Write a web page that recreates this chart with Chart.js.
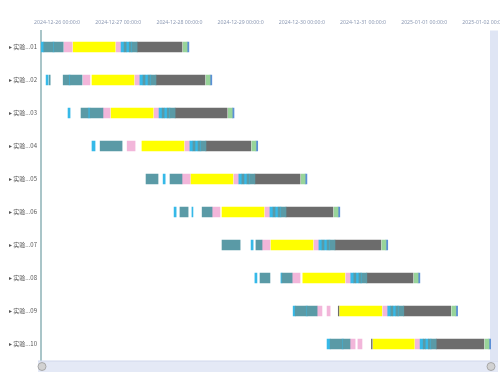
<!DOCTYPE html>
<html>
<head>
<meta charset="utf-8">
<script src="https://cdn.jsdelivr.net/npm/chart.js@4.4.1/dist/chart.umd.min.js"></script>
<style>
  html, body { margin: 0; padding: 0; background: #fff; }
  #wrap { width: 500px; height: 373px; }
</style>
</head>
<body>
<div id="wrap"><canvas id="gantt" width="500" height="373"></canvas></div>
<script>
// task rows (y axis)
const taskNames = ['实验...01', '实验...02', '实验...03', '实验...04', '实验...05',
                   '实验...06', '实验...07', '实验...08', '实验...09', '实验...10'];

// x axis: hours from 2024-12-26 00:00
const tickHours = [0, 24, 48, 72, 96, 120, 144, 168];
const tickLabels = ['2024-12-26 00:00:0', '2024-12-27 00:00:0', '2024-12-28 00:00:0', '2024-12-29 00:00:0',
                    '2024-12-30 00:00:0', '2024-12-31 00:00:0', '2025-01-01 00:00:0', '2025-01-02 00:00:0'];

// segments: [row, startHour, endHour]
const tealSegs = [
    [0, -5.2, -1.6], [0, -1.2, 2.4], [0, 26.3, 27.1], [0, 28.3, 29.0], [0, 29.4, 31.4],
    [1, -3.1, -2.7], [1, 2.4, 4.7], [1, 5.1, 9.8], [1, 33.7, 34.5], [1, 35.7, 36.4], [1, 36.8, 38.8],
    [2, 9.4, 12.2], [2, 12.9, 18.0], [2, 41.2, 42.0], [2, 43.2, 43.9], [2, 44.3, 46.3],
    [3, 16.9, 25.5], [3, 53.3, 54.1], [3, 55.3, 56.0], [3, 56.4, 58.4],
    [4, 34.9, 39.6], [4, 44.3, 49.0], [4, 72.5, 73.3], [4, 74.5, 75.2], [4, 75.6, 77.6],
    [5, 48.2, 51.4], [5, 56.9, 60.8], [5, 84.7, 85.5], [5, 86.7, 87.4], [5, 87.8, 89.8],
    [6, 64.7, 71.8], [6, 78.0, 80.4], [6, 103.9, 104.7], [6, 105.9, 106.6], [6, 107.0, 109.0],
    [7, 79.6, 83.5], [7, 88.2, 92.2], [7, 116.4, 117.2], [7, 118.4, 119.1], [7, 119.5, 121.5],
    [8, 93.4, 97.7], [8, 98.1, 102.0], [8, 130.9, 131.7], [8, 132.9, 133.6], [8, 134.0, 136.0],
    [9, 107.1, 111.8], [9, 112.2, 114.9], [9, 143.6, 144.4], [9, 145.6, 146.3], [9, 146.7, 148.7]
];
const cyanSegs = [
    [0, -6.3, -5.2], [0, -1.6, -1.2], [0, 25.1, 26.3], [0, 27.1, 28.3], [0, 29.0, 29.4],
    [1, -4.3, -3.5], [1, 4.7, 5.1], [1, 32.5, 33.7], [1, 34.5, 35.7], [1, 36.4, 36.8],
    [2, 4.3, 5.1], [2, 12.2, 12.9], [2, 40.0, 41.2], [2, 42.0, 43.2], [2, 43.9, 44.3],
    [3, 13.7, 14.9], [3, 52.1, 53.3], [3, 54.1, 55.3], [3, 56.0, 56.4],
    [4, 41.6, 42.4], [4, 71.3, 72.5], [4, 73.3, 74.5], [4, 75.2, 75.6],
    [5, 45.9, 46.7], [5, 52.9, 53.3], [5, 83.5, 84.7], [5, 85.5, 86.7], [5, 87.4, 87.8],
    [6, 76.1, 76.9], [6, 102.7, 103.9], [6, 104.7, 105.9], [6, 106.6, 107.0],
    [7, 77.6, 78.4], [7, 87.8, 88.2], [7, 115.2, 116.4], [7, 117.2, 118.4], [7, 119.1, 119.5],
    [8, 92.6, 93.4], [8, 97.7, 98.1], [8, 129.7, 130.9], [8, 131.7, 132.9], [8, 133.6, 134.0],
    [9, 105.9, 107.1], [9, 111.8, 112.2], [9, 142.4, 143.6], [9, 144.4, 145.6], [9, 146.3, 146.7]
];
const pinkSegs = [
    [0, 2.7, 5.9], [0, 23.2, 25.1],
    [1, 10.2, 12.9], [1, 30.6, 32.5],
    [2, 18.0, 20.8], [2, 38.1, 40.0],
    [3, 27.5, 30.6], [3, 50.2, 52.1],
    [4, 49.0, 52.2], [4, 69.4, 71.3],
    [5, 60.8, 63.9], [5, 81.6, 83.5],
    [6, 80.4, 83.5], [6, 100.8, 102.7],
    [7, 92.2, 95.3], [7, 113.3, 115.2],
    [8, 102.0, 103.9], [8, 105.9, 107.1], [8, 127.8, 129.7],
    [9, 114.9, 116.9], [9, 118.0, 119.6], [9, 140.5, 142.4]
];
const yellowSegs = [
    [0, 6.3, 22.8], [1, 13.7, 30.2], [2, 21.2, 37.7], [3, 33.3, 49.8], [4, 52.5, 69.0],
    [5, 64.7, 81.2], [6, 83.9, 100.4], [7, 96.4, 112.9], [8, 110.9, 127.4], [9, 124.0, 140.1]
];
const graySegs = [
    [0, 31.4, 49.0], [1, 38.8, 58.0], [2, 46.3, 66.7], [3, 58.4, 76.0], [4, 77.6, 95.3],
    [5, 89.8, 108.2], [6, 109.0, 127.0], [7, 121.5, 139.6], [8, 136.0, 154.4], [9, 148.7, 167.4],
    [8, 110.3, 110.6], [9, 123.3, 123.6]
];
const greenSegs = [
    [0, 49.4, 51.0], [1, 58.4, 60.0], [2, 67.1, 68.7], [3, 76.4, 78.0], [4, 95.7, 97.3],
    [5, 108.6, 110.2], [6, 127.4, 129.0], [7, 140.0, 141.6], [8, 154.8, 156.4], [9, 167.8, 169.4]
];
const blueSegs = [
    [0, 51.0, 51.7], [1, 60.0, 60.7], [2, 68.7, 69.4], [3, 78.0, 78.7], [4, 97.3, 98.0],
    [5, 110.2, 110.9], [6, 129.0, 129.7], [7, 141.6, 142.3], [8, 156.4, 157.1], [9, 169.4, 170.1]
];

const toPoints = list => list.map(([r, s, e]) => ({ x: [s, e], y: taskNames[r] }));

function seg(list, color) {
    return {
        data: toPoints(list),
        backgroundColor: color,
        borderWidth: 0,
        barThickness: 10,
        grouped: false
    };
}

// scrollbars drawn behind the bars
const scrollbars = {
    id: 'scrollbars',
    beforeDatasetsDraw(chart) {
        const ctx = chart.ctx;
        const a = chart.chartArea;
        ctx.save();
        // right bar
        ctx.fillStyle = '#dfe5f4';
        ctx.fillRect(490, a.top, 8, a.bottom - a.top);
        // bottom band
        ctx.fillStyle = '#e4e9f6';
        ctx.fillRect(38, a.bottom + 0.5, 460, 11);
        ctx.strokeStyle = '#d0d8ec';
        ctx.lineWidth = 1;
        ctx.beginPath();
        ctx.moveTo(38, a.bottom + 0.5);
        ctx.lineTo(498, a.bottom + 0.5);
        ctx.stroke();
        ctx.restore();
    },
    afterDraw(chart) {
        const ctx = chart.ctx;
        const y = chart.chartArea.bottom + 6;
        ctx.save();
        [42, 491].forEach(x => {
            ctx.beginPath();
            ctx.arc(x, y, 4, 0, Math.PI * 2);
            ctx.fillStyle = '#d2d2d2';
            ctx.fill();
            ctx.strokeStyle = '#9a9a9a';
            ctx.lineWidth = 0.8;
            ctx.stroke();
        });
        ctx.restore();
    }
};

const ctx = document.getElementById('gantt').getContext('2d');
const ganttChart = new Chart(ctx, {
    type: 'bar',
    data: {
        labels: taskNames,
        datasets: [
            seg(tealSegs, '#5a9aa6'),
            seg(cyanSegs, '#36b9e8'),
            seg(pinkSegs, '#f2b6da'),
            seg(yellowSegs, '#ffff00'),
            seg(graySegs, '#6c6c6c'),
            seg(greenSegs, '#98d49a'),
            seg(blueSegs, '#5b8fd6')
        ]
    },
    options: {
        indexAxis: 'y',
        responsive: false,
        animation: false,
        layout: { padding: { left: 0, right: 9, top: 0, bottom: 12.5 } },
        plugins: {
            legend: { display: false },
            tooltip: { enabled: false }
        },
        scales: {
            x: {
                type: 'linear',
                position: 'top',
                min: -6.3,
                max: 170.2,
                grid: { display: false, drawTicks: false },
                border: { display: false },
                afterBuildTicks: axis => {
                    axis.ticks = tickHours.map(v => ({ value: v }));
                },
                afterFit: scale => {
                    scale.height = 30.5;
                    // let the last label run off the edge instead of shrinking the plot
                    scale.paddingLeft = 0;
                    scale.paddingRight = 0;
                },
                ticks: {
                    autoSkip: false,
                    maxRotation: 0,
                    padding: 5,
                    color: '#8d9ab4',
                    font: { size: 5.2, family: 'Noto Sans, sans-serif' },
                    callback: v => tickLabels[tickHours.indexOf(v)]
                }
            },
            y: {
                type: 'category',
                offset: true,
                grid: { display: false, drawTicks: false },
                border: { display: true, color: '#a9c5c8', width: 2 },
                afterFit: scale => { scale.width = 41; },
                ticks: {
                    padding: 4,
                    color: '#555',
                    font: { size: 6, family: 'Noto Sans CJK SC, sans-serif' },
                    callback: function (v) { return '▸ ' + this.getLabelForValue(v); }
                }
            }
        }
    },
    plugins: [scrollbars]
});
</script>
</body>
</html>
